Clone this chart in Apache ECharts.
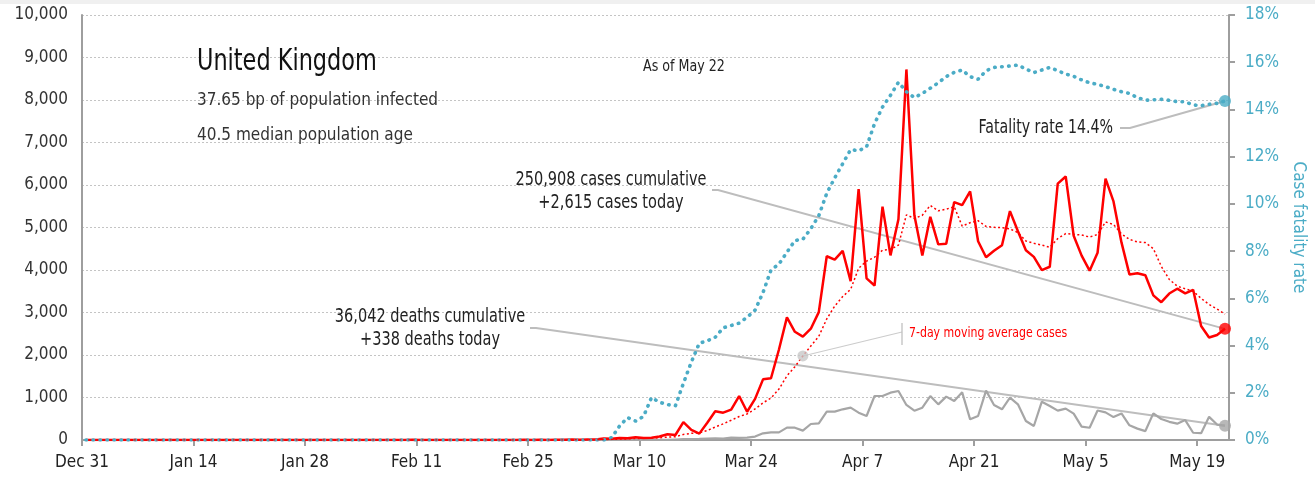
<!DOCTYPE html>
<html>
<head>
<meta charset="utf-8">
<title>United Kingdom</title>
<script src="https://cdn.jsdelivr.net/npm/echarts@6/dist/echarts.min.js"></script>
<style>
  html, body { margin: 0; padding: 0; background: #fff; }
  #chart { width: 1315px; height: 480px; }
</style>
</head>
<body>
<div id="chart"></div>
<script>
// one value per day, Dec 31 .. May 22
const tickLabels = ['Dec 31', 'Jan 14', 'Jan 28', 'Feb 11', 'Feb 25', 'Mar 10', 'Mar 24', 'Apr 7', 'Apr 21', 'May 5', 'May 19'];

const dailyCases = [
  0, 0, 0, 0, 0, 0, 0, 0, 0, 0,
  0, 0, 0, 0, 0, 0, 0, 0, 0, 0,
  0, 0, 0, 0, 0, 0, 0, 0, 0, 0,
  0, 2, 0, 0, 0, 0, 0, 1, 0, 0,
  0, 4, 1, 0, 1, 0, 0, 0, 0, 0,
  0, 0, 0, 0, 0, 4, 0, 3, 2, 5,
  3, 12, 4, 13, 11, 34, 30, 48, 43, 67,
  48, 52, 83, 134, 117, 420, 240, 150, 407, 676,
  643, 714, 1035, 665, 967, 1427, 1452, 2129, 2885, 2546,
  2433, 2619, 3009, 4324, 4244, 4450, 3735, 5903, 3802, 3634,
  5491, 4344, 5195, 8719, 5288, 4342, 5252, 4603, 4617, 5599,
  5525, 5850, 4676, 4301, 4451, 4583, 5386, 4913, 4463, 4309,
  3996, 4076, 6032, 6201, 4806, 4339, 3985, 4406, 6150, 5614,
  4649, 3896, 3923, 3877, 3403, 3242, 3446, 3560, 3450, 3534,
  2684, 2412, 2472, 2615
];

const avgCases = [
  null, null, null, null, null, null, 0, 0, 0, 0,
  0, 0, 0, 0, 0, 0, 0, 0, 0, 0,
  0, 0, 0, 0, 0, 0, 0, 0, 0, 0,
  0, 0, 0, 0, 0, 0, 0, 0, 0, 0,
  0, 1, 1, 1, 1, 1, 1, 1, 0, 0,
  0, 0, 0, 0, 0, 1, 1, 1, 1, 2,
  2, 4, 4, 6, 7, 12, 15, 22, 26, 35,
  40, 46, 53, 68, 78, 132, 156, 171, 222, 306,
  379, 464, 552, 613, 730, 875, 986, 1198, 1509, 1724,
  1977, 2213, 2439, 2849, 3151, 3375, 3545, 4041, 4210, 4299,
  4466, 4480, 4586, 5298, 5210, 5288, 5519, 5392, 5431, 5489,
  5032, 5113, 5160, 5024, 5003, 4998, 4967, 4880, 4682, 4629,
  4586, 4532, 4739, 4856, 4840, 4823, 4776, 4835, 5131, 5072,
  4850, 4720, 4660, 4645, 4502, 4086, 3777, 3621, 3557, 3502,
  3331, 3190, 3080, 2961
];

const dailyDeaths = [
  0, 0, 0, 0, 0, 0, 0, 0, 0, 0,
  0, 0, 0, 0, 0, 0, 0, 0, 0, 0,
  0, 0, 0, 0, 0, 0, 0, 0, 0, 0,
  0, 0, 0, 0, 0, 0, 0, 0, 0, 0,
  0, 0, 0, 0, 0, 0, 0, 0, 0, 0,
  0, 0, 0, 0, 0, 0, 0, 0, 0, 0,
  0, 0, 0, 0, 0, 1, 1, 0, 1, 2,
  1, 2, 2, 1, 11, 20, 20, 25, 35, 40,
  35, 55, 50, 55, 80, 157, 180, 180, 290, 290,
  220, 376, 392, 667, 667, 722, 761, 643, 565, 1035,
  1035, 1114, 1153, 824, 690, 761, 1035, 839, 1020, 918,
  1122, 486, 565, 1161, 824, 722, 996, 839, 447, 329,
  902, 800, 690, 739, 621, 315, 288, 693, 649, 539,
  626, 346, 268, 210, 627, 494, 428, 384, 468, 170,
  160, 545, 363, 338
];

// case fatality rate, %
const fatalityRate = [
  0, 0, 0, 0, 0, 0, 0, 0, 0, 0,
  0, 0, 0, 0, 0, 0, 0, 0, 0, 0,
  0, 0, 0, 0, 0, 0, 0, 0, 0, 0,
  0, 0, 0, 0, 0, 0, 0, 0, 0, 0,
  0, 0, 0, 0, 0, 0, 0, 0, 0, 0,
  0, 0, 0, 0, 0, 0, 0, 0, 0, 0,
  0, 0, 0, 0, 0, 0, 0.1, 0.6, 0.95, 0.8,
  1.0, 1.8, 1.6, 1.5, 1.45, 2.4, 3.3, 4.1, 4.2, 4.35,
  4.75, 4.85, 4.95, 5.2, 5.5, 6.25, 7.2, 7.45, 7.95, 8.45,
  8.5, 8.95, 9.5, 10.45, 11.1, 11.7, 12.3, 12.25, 12.42, 13.4,
  14.1, 14.6, 15.15, 14.75, 14.5, 14.68, 14.9, 15.13, 15.39, 15.57,
  15.67, 15.39, 15.28, 15.64, 15.78, 15.81, 15.84, 15.88, 15.71, 15.56,
  15.67, 15.78, 15.64, 15.5, 15.4, 15.25, 15.13, 15.06, 14.97, 14.85,
  14.75, 14.68, 14.5, 14.39, 14.41, 14.43, 14.39, 14.33, 14.32, 14.19,
  14.16, 14.22, 14.26, 14.36
];

const totalCases = '250,908';
const totalDeaths = '36,042';
const calloutDay = 90;

const FONT = '"DejaVu Sans Condensed", "Liberation Sans Narrow", sans-serif';
const RED = '#ff0000';
const GREY = '#a6a6a6';
const BLUE = '#4bacc6';
const AXIS = '#9e9e9e';
const LEADER = '#bdbdbd';

const last = dailyCases.length - 1;
// points sit in the middle of their day
const atDay = arr => arr.map((v, i) => [i + 0.5, v]);
const tickDays = tickLabels.map((t, i) => i * 14);

const chart = echarts.init(document.getElementById('chart'));

chart.setOption({
  animation: false,
  textStyle: { fontFamily: FONT },
  grid: { left: 82, right: 86, top: 15, bottom: 40, outerBoundsMode: 'none', containLabel: false },
  xAxis: {
    type: 'value',
    min: 0,
    max: dailyCases.length,
    axisLine: { onZero: false, lineStyle: { color: AXIS, width: 2 } },
    axisTick: { show: true, length: 6, customValues: tickDays, lineStyle: { color: AXIS, width: 2 } },
    axisLabel: {
      customValues: tickDays,
      formatter: v => tickLabels[Math.round(v / 14)] || '',
      color: '#222', fontSize: 17, fontFamily: FONT, margin: 14
    },
    splitLine: { show: false }
  },
  yAxis: [{
    type: 'value',
    min: 0, max: 10000, interval: 1000,
    axisLine: { show: true, onZero: false, lineStyle: { color: AXIS, width: 2 } },
    axisTick: { show: false },
    axisLabel: {
      formatter: v => v.toLocaleString('en-US'),
      color: '#333', fontSize: 17, fontFamily: FONT, margin: 14
    },
    splitLine: { show: true, lineStyle: { color: '#c4c4c4', width: 1, type: [2, 2] } }
  }, {
    type: 'value',
    position: 'right',
    min: 0, max: 18, interval: 2,
    name: 'Case fatality rate',
    nameLocation: 'middle',
    nameRotate: -90,
    nameGap: 58,
    nameTextStyle: { color: BLUE, fontSize: 17, fontFamily: FONT },
    axisLine: { show: true, onZero: false, lineStyle: { color: AXIS, width: 2 } },
    axisTick: { show: true, length: 6, lineStyle: { color: AXIS, width: 2 } },
    axisLabel: { formatter: '{value}%', color: BLUE, fontSize: 17, fontFamily: FONT, margin: 16 },
    splitLine: { show: false }
  }],
  series: [{
    name: 'Deaths',
    type: 'line',
    data: atDay(dailyDeaths),
    showSymbol: false,
    lineStyle: { color: GREY, width: 2.2 },
    itemStyle: { color: GREY },
    z: 2
  }, {
    name: 'Cases',
    type: 'line',
    data: atDay(dailyCases),
    showSymbol: false,
    lineStyle: { color: RED, width: 2.5 },
    itemStyle: { color: RED },
    z: 3
  }, {
    name: 'Case fatality rate',
    type: 'line',
    yAxisIndex: 1,
    data: atDay(fatalityRate),
    showSymbol: false,
    lineStyle: { color: BLUE, width: 3.6, type: [0.5, 6.5], cap: 'round' },
    itemStyle: { color: BLUE },
    z: 4
  }, {
    name: '7-day moving average cases',
    type: 'line',
    data: atDay(avgCases),
    showSymbol: false,
    connectNulls: false,
    lineStyle: { color: RED, width: 1.5, type: [2, 2.5] },
    itemStyle: { color: RED },
    z: 5
  }, {
    type: 'scatter',
    data: [[last + 0.5, dailyCases[last]]],
    symbolSize: 12,
    itemStyle: { color: RED },
    z: 10
  }, {
    type: 'scatter',
    data: [[last + 0.5, dailyDeaths[last]]],
    symbolSize: 12,
    itemStyle: { color: GREY },
    z: 10
  }, {
    type: 'scatter',
    yAxisIndex: 1,
    data: [[last + 0.5, fatalityRate[last]]],
    symbolSize: 12,
    itemStyle: { color: BLUE },
    z: 10
  }, {
    type: 'scatter',
    data: [[calloutDay + 0.5, avgCases[calloutDay]]],
    symbolSize: 11,
    itemStyle: { color: '#c8c8c8' },
    z: 10
  }]
});

// annotation positions come from the data points they point to
const endCases = chart.convertToPixel({ seriesIndex: 4 }, [last + 0.5, dailyCases[last]]);
const endDeaths = chart.convertToPixel({ seriesIndex: 5 }, [last + 0.5, dailyDeaths[last]]);
const endRate = chart.convertToPixel({ seriesIndex: 6 }, [last + 0.5, fatalityRate[last]]);
const avgDot = chart.convertToPixel({ seriesIndex: 7 }, [calloutDay + 0.5, avgCases[calloutDay]]);

// condensed look: taller font squeezed horizontally around its anchor
function label(text, x, y, size, squeeze, opts) {
  return {
    type: 'text', z: 20,
    x: x, y: y,
    scaleX: squeeze || 1,
    style: Object.assign({
      text: text, x: 0, y: 0,
      font: size + 'px ' + FONT,
      fill: '#222',
      textAlign: 'left',
      textVerticalAlign: 'middle'
    }, opts || {})
  };
}
function leader(points, width, color) {
  return {
    type: 'polyline', z: 1,
    shape: { points: points },
    style: { stroke: color || LEADER, lineWidth: width || 2, fill: null }
  };
}

chart.setOption({
  graphic: [
    { type: 'rect', shape: { x: 0, y: 0, width: 1315, height: 4 }, style: { fill: '#f0f0f0' } },
    label('United Kingdom', 197, 62, 30, 0.83, { fill: '#111' }),
    label('37.65 bp of population infected', 197, 101, 17, 1, { fill: '#333' }),
    label('40.5 median population age', 197, 136, 17, 1, { fill: '#333' }),
    label('As of May 22', 684, 67, 16, 0.88, { textAlign: 'center' }),

    label(totalCases + ' cases cumulative', 611, 180, 19, 0.85, { textAlign: 'center' }),
    label('+' + dailyCases[last].toLocaleString('en-US') + ' cases today', 611, 203, 19, 0.85, { textAlign: 'center' }),
    leader([[712, 190], [718, 190], endCases]),

    label(totalDeaths + ' deaths cumulative', 430, 317, 19, 0.85, { textAlign: 'center' }),
    label('+' + dailyDeaths[last] + ' deaths today', 430, 340, 19, 0.85, { textAlign: 'center' }),
    leader([[530, 328], [536, 328], endDeaths]),

    label('Fatality rate ' + fatalityRate[last].toFixed(1) + '%', 1113, 128, 19, 0.83, { textAlign: 'right' }),
    leader([[1120, 128], [1130, 128], endRate]),

    label('7-day moving average cases', 909, 333, 14.5, 0.84, { fill: RED }),
    leader([avgDot, [902, 332]], 1.2, '#cccccc'),
    leader([[902, 323], [902, 345]], 1.2, '#bbbbbb')
  ]
});
</script>
</body>
</html>
